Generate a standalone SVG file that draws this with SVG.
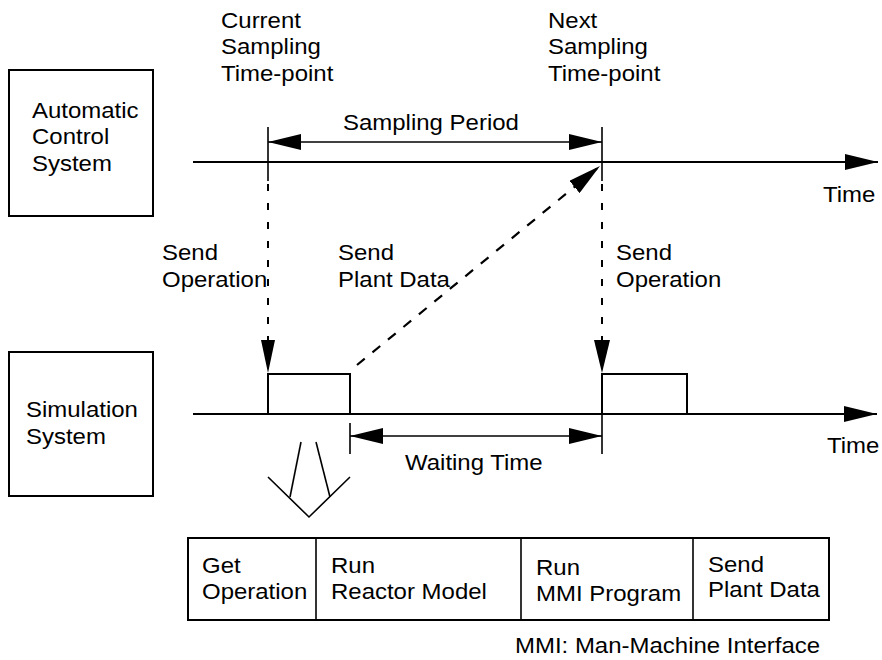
<svg xmlns="http://www.w3.org/2000/svg" width="882" height="660" viewBox="0 0 882 660">
  <style>
    text { font-family: "Liberation Sans", Arial, sans-serif; font-size: 22px; fill: #000; }
    .box { fill: none; stroke: #000; stroke-width: 2; }
    .axis { fill: none; stroke: #000; stroke-width: 2; }
    .tick { fill: none; stroke: #000; stroke-width: 1.6; }
    .dash { fill: none; stroke: #000; stroke-width: 2; stroke-dasharray: 7 12; }
    .dashd { fill: none; stroke: #000; stroke-width: 2.2; stroke-dasharray: 10 10; }
  </style>
  <defs>
    <marker id="ah" markerUnits="userSpaceOnUse" markerWidth="34" markerHeight="16" refX="33" refY="8" orient="auto-start-reverse" viewBox="0 0 34 16">
      <path d="M0,0 L33,8 L0,16 Z" fill="#000"/>
    </marker>
    <marker id="ahn" markerUnits="userSpaceOnUse" markerWidth="34" markerHeight="14" refX="33" refY="7" orient="auto" viewBox="0 0 34 14">
      <path d="M0,0 L33,7 L0,14 Z" fill="#000"/>
    </marker>
  </defs>

  <rect width="882" height="660" fill="#fff"/>

  <!-- system boxes -->
  <g id="acs">
    <rect class="box" x="9" y="70" width="144" height="146"/>
    <text transform="translate(32,118) scale(1.09,1)"><tspan x="0" y="0">Automatic</tspan><tspan x="0" y="26.5">Control</tspan><tspan x="0" y="53">System</tspan></text>
  </g>
  <g id="sim">
    <rect class="box" x="9" y="352" width="144" height="144"/>
    <text transform="translate(26,417) scale(1.09,1)"><tspan x="0" y="0">Simulation</tspan><tspan x="0" y="27">System</tspan></text>
  </g>

  <!-- sampling point labels -->
  <g id="current-point">
    <text transform="translate(221,28) scale(1.09,1)"><tspan x="0" y="0">Current</tspan><tspan x="0" y="26.5">Sampling</tspan><tspan x="0" y="53">Time-point</tspan></text>
  </g>
  <g id="next-point">
    <text transform="translate(548,28) scale(1.09,1)"><tspan x="0" y="0">Next</tspan><tspan x="0" y="26.5">Sampling</tspan><tspan x="0" y="53">Time-point</tspan></text>
  </g>

  <!-- processing blocks on the simulation time axis -->
  <g id="proc-1">
    <rect class="box" x="268" y="374" width="82" height="40"/>
  </g>
  <g id="proc-2">
    <rect class="box" x="602" y="374" width="85" height="40"/>
  </g>

  <!-- breakdown of one processing cycle -->
  <g id="cycle-table">
    <rect class="box" x="188" y="538" width="641" height="82"/>
    <line class="tick" x1="316" y1="538" x2="316" y2="620"/>
    <line class="tick" x1="521" y1="538" x2="521" y2="620"/>
    <line class="tick" x1="693" y1="538" x2="693" y2="620"/>
    <text transform="translate(202,573) scale(1.09,1)"><tspan x="0" y="0">Get</tspan><tspan x="0" y="26">Operation</tspan></text>
    <text transform="translate(331,573) scale(1.09,1)"><tspan x="0" y="0">Run</tspan><tspan x="0" y="26">Reactor Model</tspan></text>
    <text transform="translate(536,575) scale(1.09,1)"><tspan x="0" y="0">Run</tspan><tspan x="0" y="26">MMI Program</tspan></text>
    <text transform="translate(708,572) scale(1.09,1)"><tspan x="0" y="0">Send</tspan><tspan x="0" y="25">Plant Data</tspan></text>
  </g>
  <g id="legend">
    <text transform="translate(515,653) scale(1.09,1)">MMI: Man-Machine Interface</text>
  </g>

  <!-- connectors, axes and spans -->
  <g id="connectors">
    <!-- time axes -->
    <line class="axis" x1="193" y1="162" x2="878" y2="162" marker-end="url(#ah)"/>
    <line class="axis" x1="193" y1="414" x2="877" y2="414" marker-end="url(#ah)"/>

    <!-- sampling time-point ticks -->
    <line class="tick" x1="268" y1="127" x2="268" y2="181"/>
    <line class="tick" x1="602" y1="127" x2="602" y2="181"/>

    <!-- sampling period span -->
    <line class="tick" x1="268" y1="142" x2="602" y2="142" marker-start="url(#ah)" marker-end="url(#ah)"/>

    <!-- send operation (dashed, downward) -->
    <line class="dash" x1="268" y1="184" x2="268" y2="373" marker-end="url(#ahn)"/>
    <line class="dash" x1="602" y1="184" x2="602" y2="373" marker-end="url(#ah)"/>

    <!-- send plant data (dashed, diagonal) -->
    <line class="dashd" x1="357" y1="365" x2="600" y2="166" marker-end="url(#ah)"/>

    <!-- waiting time span -->
    <line class="tick" x1="350" y1="423" x2="350" y2="454"/>
    <line class="tick" x1="602" y1="414" x2="602" y2="454"/>
    <line class="tick" x1="350" y1="436" x2="602" y2="436" marker-start="url(#ah)" marker-end="url(#ah)"/>

    <!-- expansion symbol -->
    <line class="tick" x1="301" y1="442" x2="290" y2="497"/>
    <line class="tick" x1="316" y1="442" x2="330" y2="497"/>
    <polyline class="tick" points="268,477 309,517 350,477"/>
  </g>

  <!-- connector labels -->
  <g id="labels">
    <text transform="translate(343,130) scale(1.09,1)">Sampling Period</text>
    <text transform="translate(823,202) scale(1.09,1)">Time</text>
    <text transform="translate(827,453) scale(1.09,1)">Time</text>
    <text transform="translate(162,260) scale(1.09,1)"><tspan x="0" y="0">Send</tspan><tspan x="0" y="27">Operation</tspan></text>
    <text transform="translate(338,260) scale(1.09,1)"><tspan x="0" y="0">Send</tspan><tspan x="0" y="27">Plant Data</tspan></text>
    <text transform="translate(616,260) scale(1.09,1)"><tspan x="0" y="0">Send</tspan><tspan x="0" y="27">Operation</tspan></text>
    <text transform="translate(405,470) scale(1.09,1)">Waiting Time</text>
  </g>
</svg>
